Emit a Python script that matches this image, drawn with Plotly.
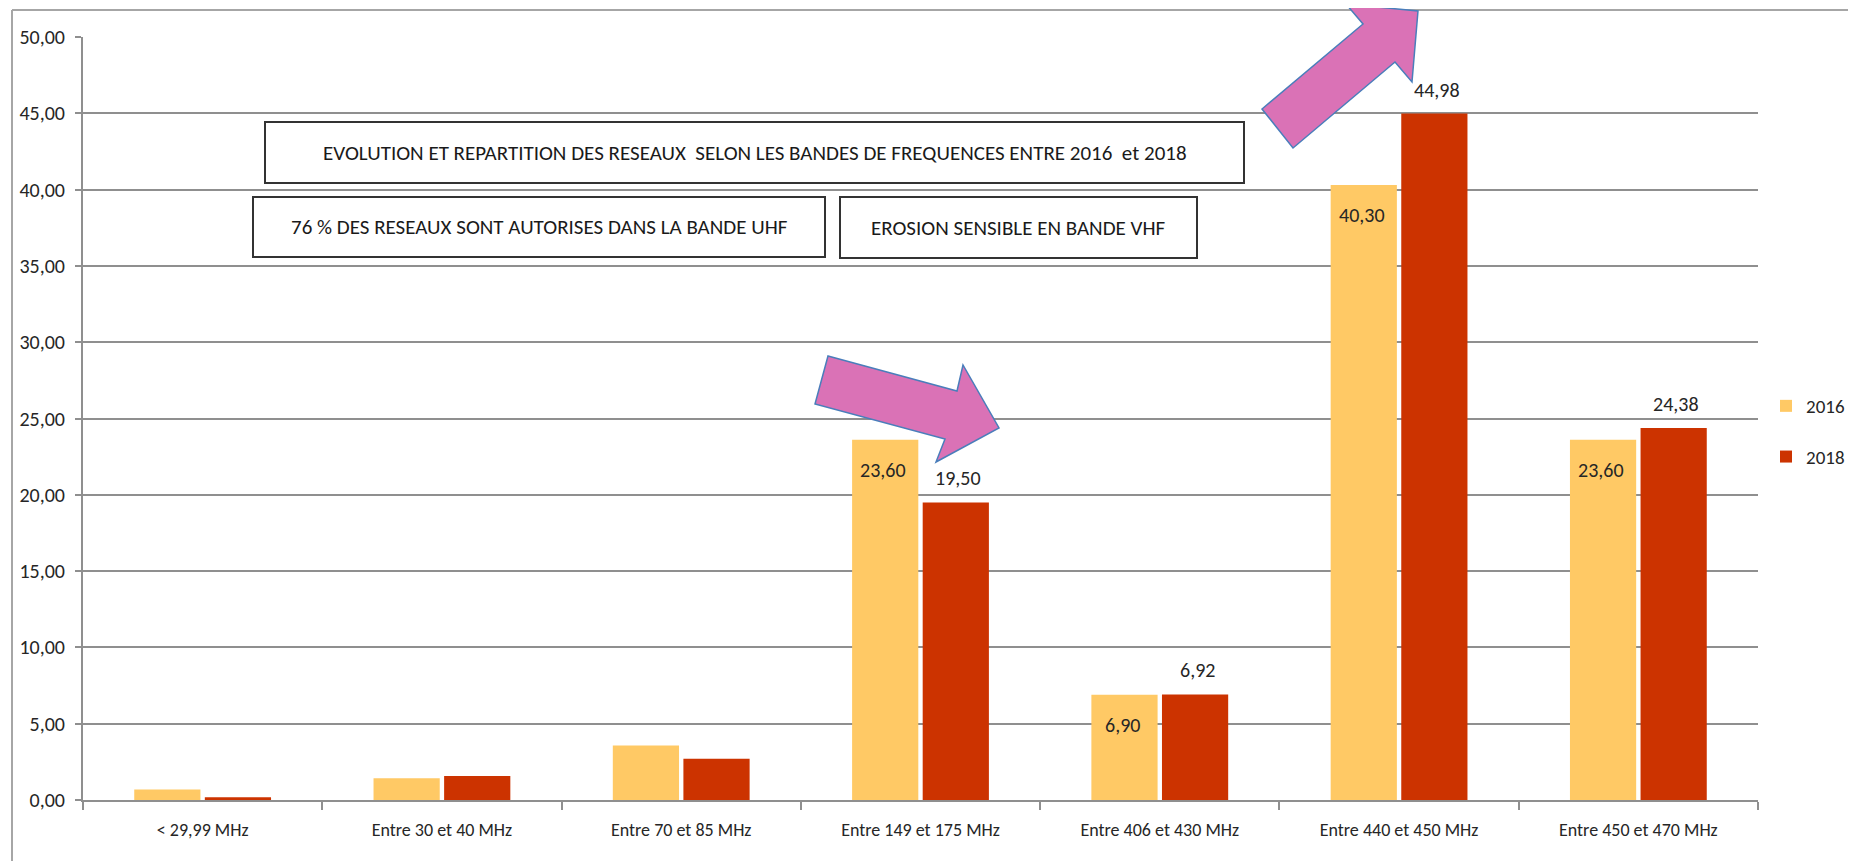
import plotly.graph_objects as go

# ---------------- data ----------------
categories = ["< 29,99 MHz", "Entre 30 et 40 MHz", "Entre 70 et 85 MHz",
              "Entre 149 et 175 MHz", "Entre 406 et 430 MHz",
              "Entre 440 et 450 MHz", "Entre 450 et 470 MHz"]
values_2016 = [0.68, 1.42, 3.57, 23.60, 6.90, 40.30, 23.60]
values_2018 = [0.18, 1.57, 2.70, 19.50, 6.92, 44.98, 24.38]
series_names = ["2016", "2018"]
labeled_idx = [3, 4, 5, 6]          # bars that carry a value label
y_ticks = [0, 5, 10, 15, 20, 25, 30, 35, 40, 45, 50]

box_texts = ["EVOLUTION ET REPARTITION DES RESEAUX  SELON LES BANDES DE FREQUENCES ENTRE 2016  et 2018",
             "76 % DES RESEAUX SONT AUTORISES DANS LA BANDE UHF",
             "EROSION SENSIBLE EN BANDE VHF"]

# ---------------- style ----------------
W, H = 1856, 861
OFF = 8                      # default page body margin of the html page
L, R, T, B = 83, 1758, 37, 800   # plot area in screen pixels
FONT = "Carlito, 'Liberation Sans Narrow', 'Open Sans', sans-serif"
C16, C18 = "#FFC965", "#CC3300"
GRID = "#8f8f8f"
TXT = "#262626"

def px(x):
    return (x - L) / (R - L)

def py(y):
    return (B - y) / (B - T)

def fmt(v):
    return f"{v:.2f}".replace(".", ",")

fig = go.Figure()
fig.add_trace(go.Bar(x=categories, y=values_2016, name=series_names[0],
                     marker=dict(color=C16, line=dict(width=0)), legendgroup="a"))
fig.add_trace(go.Bar(x=categories, y=values_2018, name=series_names[1],
                     marker=dict(color=C18, line=dict(width=0)), legendgroup="b"))

annotations = []
for i in labeled_idx:
    annotations.append(dict(x=categories[i], y=values_2016[i], xref="x", yref="y",
                            text=fmt(values_2016[i]), showarrow=False,
                            xshift=-37.5, yshift=-30, yanchor="middle",
                            font=dict(family=FONT, size=20, color=TXT)))
    annotations.append(dict(x=categories[i], y=values_2018[i], xref="x", yref="y",
                            text=fmt(values_2018[i]), showarrow=False,
                            xshift=37.5, yshift=24, yanchor="middle",
                            font=dict(family=FONT, size=20, color=TXT)))

# text boxes (pixel geometry -> paper)
boxes = [(265, 122, 1244, 183), (253, 197, 825, 257), (840, 197, 1197, 258)]
shapes = []
for (x0, y0, x1, y1), t in zip(boxes, box_texts):
    shapes.append(dict(type="rect", xref="paper", yref="paper",
                       x0=px(x0), x1=px(x1), y0=py(y1), y1=py(y0),
                       fillcolor="white", line=dict(color="#333333", width=2), layer="above"))
    annotations.append(dict(x=px((x0 + x1) / 2), y=py((y0 + y1) / 2), xref="paper", yref="paper",
                            text=t, showarrow=False, xanchor="center", yanchor="middle",
                            font=dict(family=FONT, size=21, color="#1a1a1a")))

# pink block arrows
arrows = [
    [(828, 356), (957, 391), (963, 365), (999, 428), (936, 462), (945, 439), (815, 404)],
    [(1262, 109), (1363, 24), (1346, 4), (1418, 11), (1412, 82), (1395, 62), (1293, 148)],
]
for pts in arrows:
    path = "M " + " L ".join(f"{px(x):.5f},{py(y):.5f}" for x, y in pts) + " Z"
    shapes.append(dict(type="path", xref="paper", yref="paper", path=path,
                       fillcolor="#DA72B6", line=dict(color="#4A7EBB", width=1.5), layer="above"))

# outer chart-area border (top and left edges visible)
shapes.append(dict(type="line", xref="paper", yref="paper", x0=px(12), x1=px(W + 20), y0=py(10), y1=py(10),
                   line=dict(color="#a6a6a6", width=2), layer="below"))
shapes.append(dict(type="line", xref="paper", yref="paper", x0=px(12), x1=px(12), y0=py(10), y1=py(H + 20),
                   line=dict(color="#a6a6a6", width=2), layer="below"))

fig.update_layout(
    width=W, height=H,
    margin=dict(l=L - OFF, r=W - R + OFF, t=T - OFF, b=H - B + OFF),
    paper_bgcolor="white", plot_bgcolor="white",
    separators=", ",
    barmode="group", bargap=0.41, bargroupgap=0.062,
    font=dict(family=FONT, size=18, color=TXT),
    showlegend=True,
    legend=dict(x=px(1766), y=py(387), xanchor="left", yanchor="top",
                font=dict(family=FONT, size=19, color=TXT),
                tracegroupgap=23, bgcolor="rgba(0,0,0,0)"),
    annotations=annotations,
    shapes=shapes,
)
fig.update_xaxes(type="category", showgrid=False, showline=True, linecolor=GRID, linewidth=2,
                 ticks="outside", tickson="boundaries", ticklen=8, tickcolor=GRID, tickwidth=1.5,
                 tickfont=dict(family=FONT, size=18, color=TXT), ticklabelstandoff=12)
fig.update_yaxes(range=[0, 50], tickvals=y_ticks, tickformat=".2f", showgrid=True,
                 gridcolor=GRID, gridwidth=2, showline=True, linecolor=GRID, linewidth=2,
                 ticks="outside", ticklen=6, tickcolor=GRID, tickwidth=1.5, zeroline=False,
                 tickfont=dict(family=FONT, size=20, color=TXT), ticklabelstandoff=6)

fig.write_html("out.html")
